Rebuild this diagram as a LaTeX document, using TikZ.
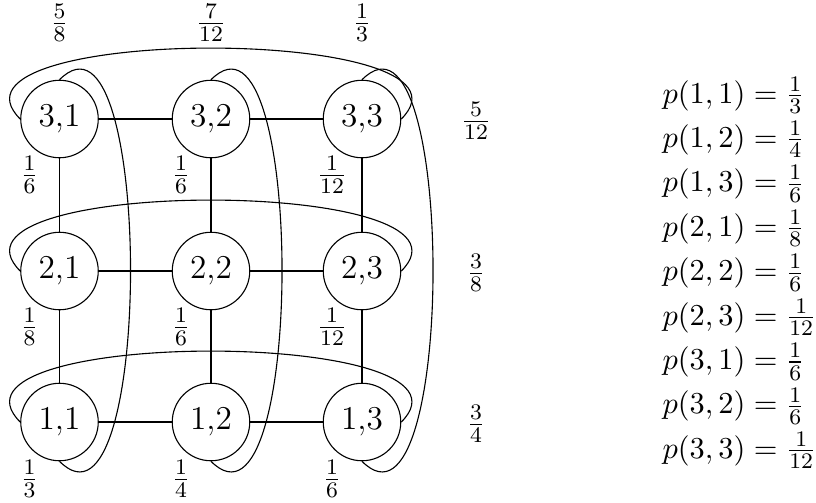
\documentclass[tikz,border=0pt]{standalone}
\begin{document}
\begin{tikzpicture}[x=0.36pt,y=0.36pt,
  font=\fontsize{10.95}{13.6}\selectfont,
  state/.style={circle,draw,minimum size=27.9pt,inner sep=0pt,font=\fontsize{12}{14.5}\selectfont},
  lab/.style={inner sep=0pt},
  eqn/.style={inner sep=0pt,anchor=base west}]
\useasboundingbox (0,0) rectangle (816,502);
% nodes
\foreach \r/\y in {3/383,2/231,1/80}{
  \foreach \c/\x in {1/59.5,2/211,3/362}{
    \node[state] (n\r\c) at (\x,\y) {\r,\c};
  }
}
% grid
\foreach \r in {1,2,3}{
  \draw (n\r1) -- (n\r2);
  \draw (n\r2) -- (n\r3);
}
\foreach \c in {1,2,3}{
  \draw (n3\c) -- (n2\c);
  \draw (n2\c) -- (n1\c);
}
% row arcs
\foreach \r in {1,2,3}{
  \draw (n\r1.west) to[out=135,in=45,looseness=0.9] (n\r3.east);
}
% column arcs
\foreach \c in {1,2,3}{
  \draw (n3\c.north) to[out=45,in=-45,looseness=0.9] (n1\c.south);
}
% column sums
\node[lab] (s1) at (59.5,479) {$\frac{5}{8}$};
\node[lab] (s2) at (211,479) {$\frac{7}{12}$};
\node[lab] (s3) at (362,479) {$\frac{1}{3}$};
% row sums
\node[lab] (t3) at (476,381) {$\frac{5}{12}$};
\node[lab] (t2) at (476,229) {$\frac{3}{8}$};
\node[lab] (t1) at (476,78) {$\frac{3}{4}$};
% node probabilities
\node[lab] (q31) at (29.5,327) {$\frac{1}{6}$};
\node[lab] (q32) at (181,327) {$\frac{1}{6}$};
\node[lab] (q33) at (332,327) {$\frac{1}{12}$};
\node[lab] (q21) at (29.5,175) {$\frac{1}{8}$};
\node[lab] (q22) at (181,175) {$\frac{1}{6}$};
\node[lab] (q23) at (332,175) {$\frac{1}{12}$};
\node[lab] (q11) at (29.5,23) {$\frac{1}{3}$};
\node[lab] (q12) at (181,23) {$\frac{1}{4}$};
\node[lab] (q13) at (332,23) {$\frac{1}{6}$};
% equations
\node[eqn] (eqs) at (662,399) {\renewcommand\arraystretch{1.176}%
$\begin{array}[t]{@{}l@{}}
p(1,1) = \frac{1}{3}\\
p(1,2) = \frac{1}{4}\\
p(1,3) = \frac{1}{6}\\
p(2,1) = \frac{1}{8}\\
p(2,2) = \frac{1}{6}\\
p(2,3) = \frac{1}{12}\\
p(3,1) = \frac{1}{6}\\
p(3,2) = \frac{1}{6}\\
p(3,3) = \frac{1}{12}
\end{array}$};
\end{tikzpicture}
\end{document}
